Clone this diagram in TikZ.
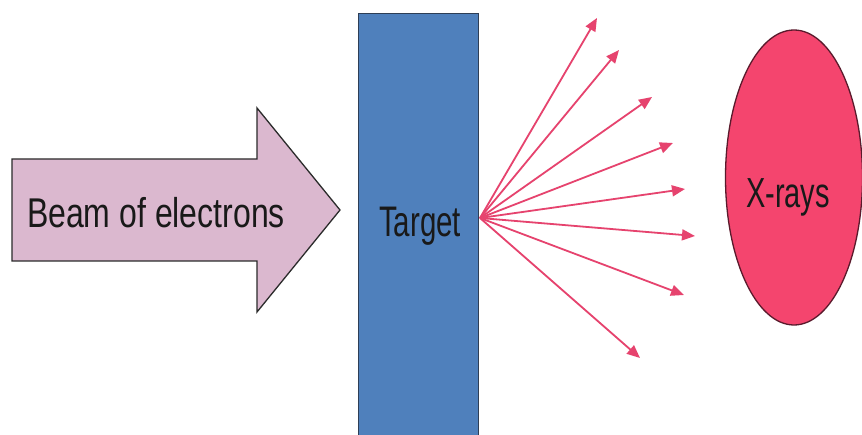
\documentclass[tikz,border=0pt]{standalone}
\usepackage{fontspec}
\setmainfont{Liberation Sans}
\usetikzlibrary{arrows.meta,shapes.geometric}
\definecolor{beamfill}{HTML}{DBB8CF}
\definecolor{beamline}{HTML}{2B2B2B}
\definecolor{targfill}{HTML}{4F80BC}
\definecolor{targline}{HTML}{2E3E55}
\definecolor{rayc}{HTML}{E6436E}
\definecolor{xfill}{HTML}{F4456E}
\definecolor{xline}{HTML}{5A1A2C}
\tikzset{
  beam/.style={fill=beamfill,draw=beamline,line width=1.3pt,line join=miter},
  targetbox/.style={rectangle,fill=targfill,draw=targline,line width=1.3pt,inner sep=0pt,anchor=north west},
  xblob/.style={ellipse,fill=xfill,draw=xline,line width=1.3pt,inner sep=0pt},
  lbl/.style={inner sep=0pt,anchor=base,text=black!90},
  ray/.style={draw=rayc,line width=1.8pt,-{Triangle[length=13pt,width=11pt]}}
}
\begin{document}
\begin{tikzpicture}[x=1pt,y=-1pt]
\useasboundingbox (0,0) rectangle (862,435);
\clip (0,0) rectangle (862,435);
\fill[white] (0,0) rectangle (862,435);
% beam arrow
\coordinate (b1) at (12,159);
\coordinate (b2) at (257,159);
\coordinate (b3) at (257,108);
\coordinate (btip) at (340,210);
\coordinate (b5) at (257,312);
\coordinate (b6) at (257,261);
\coordinate (b7) at (12,261);
\draw[beam] (b1) -- (b2) -- (b3) -- (btip) -- (b5) -- (b6) -- (b7) -- cycle;
\node[lbl] (beamtxt) at (156,228) {\scalebox{1}[1.3]{\fontsize{32}{36}\selectfont Beam of electrons}};
% target
\node[targetbox,minimum width=120pt,minimum height=440pt] (target) at (358,13) {};
\node[lbl] (targtxt) at (420,237) {\scalebox{1}[1.45]{\fontsize{29.5}{34}\selectfont Target}};
% x-rays
\node[xblob,minimum width=137pt,minimum height=295pt] (xr) at (794,177.5) {};
\node[lbl] (xtxt) at (788,208) {\scalebox{1}[1.45]{\fontsize{29}{34}\selectfont X-rays}};
% rays
\coordinate (o) at (480,218);
\coordinate (r1) at (597,18);
\coordinate (r2) at (619,50);
\coordinate (r3) at (652,97);
\coordinate (r4) at (673,143);
\coordinate (r5) at (685,189);
\coordinate (r6) at (695,236);
\coordinate (r7) at (684,295);
\coordinate (r8) at (640,358);
\foreach \r in {r1,r2,r3,r4,r5,r6,r7,r8}{\draw[ray] (o) -- (\r);}
\end{tikzpicture}
\end{document}
